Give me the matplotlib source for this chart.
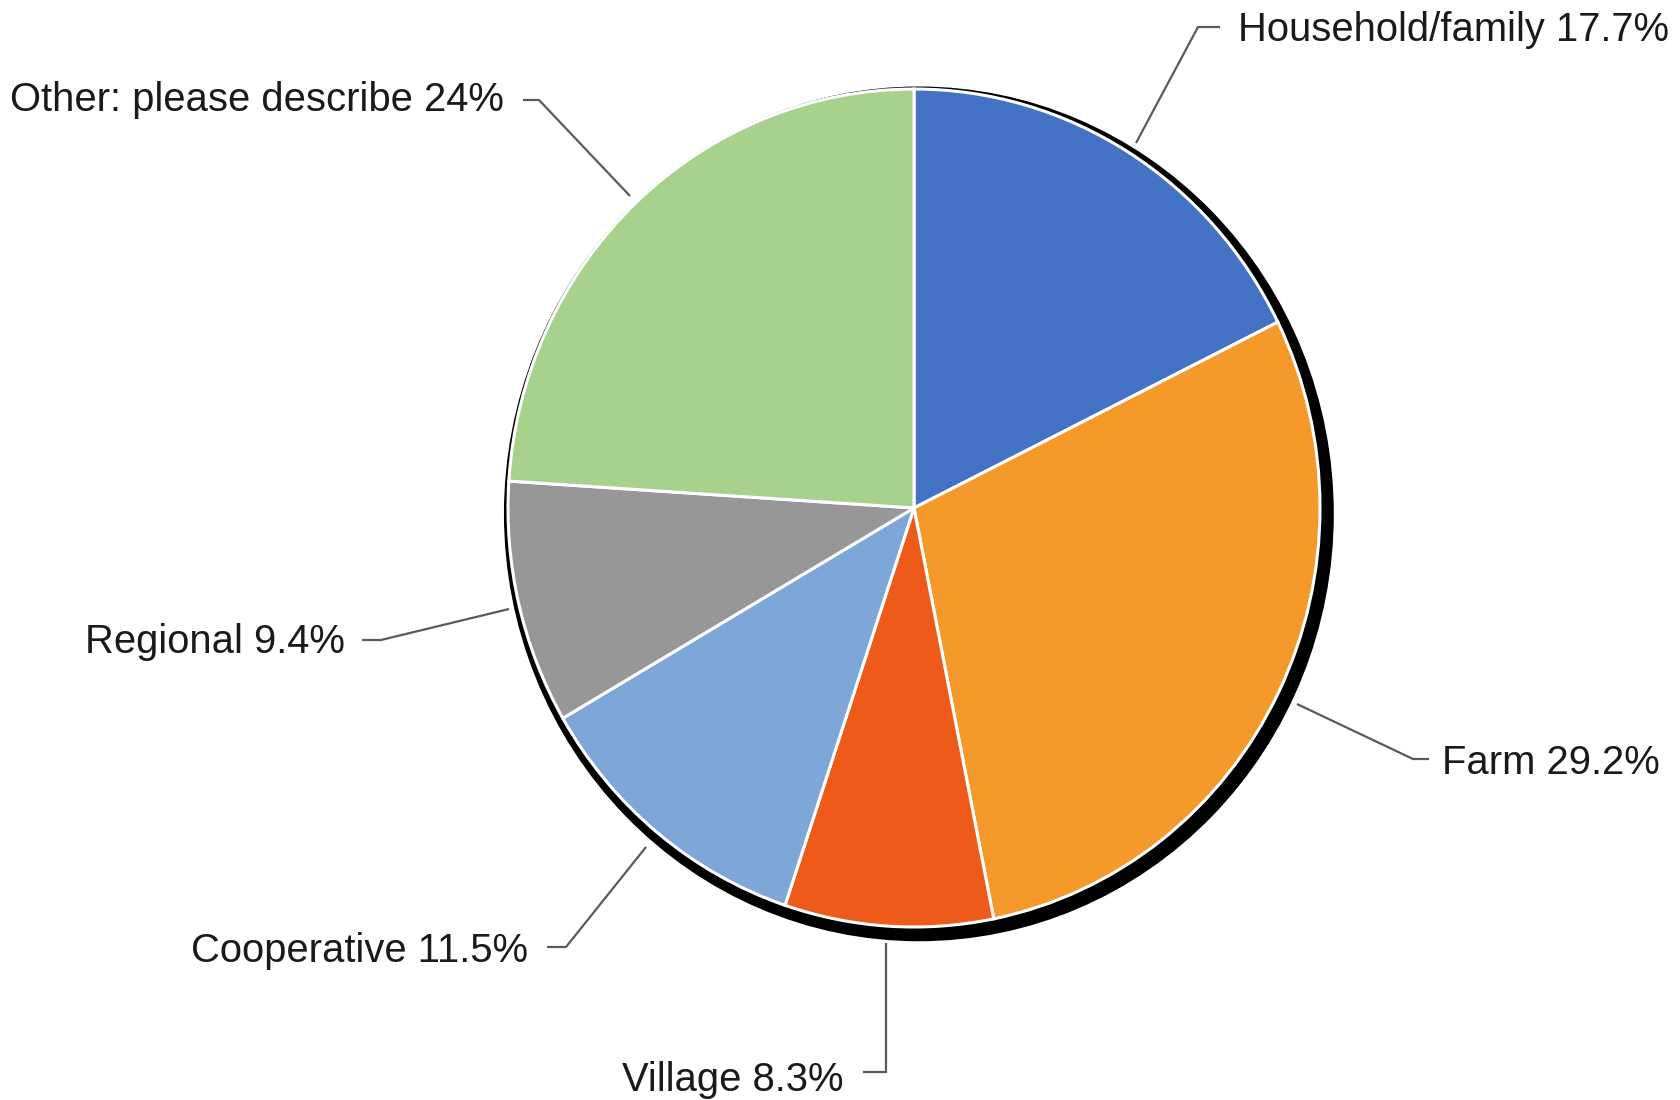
import matplotlib
matplotlib.use("Agg")
import matplotlib.pyplot as plt
from matplotlib.patches import Ellipse

categories = ["Household/family", "Farm", "Village", "Cooperative", "Regional", "Other: please describe"]
values = [17.7, 29.2, 8.3, 11.5, 9.4, 24]
colors = ["#4472C4", "#F5992A", "#EE5A1A", "#7EA6D8", "#97979A", "#A9D18E"]

W, H = 1681, 1100
fig = plt.figure(figsize=(W / 100, H / 100), dpi=100)
plt.rcParams['font.family'] = ['Liberation Sans', 'DejaVu Sans']

# pie geometry (pixels)
cx, cy, rx, ry = 914, 508, 406, 419
ax = fig.add_axes([(cx - rx) / W, (H - cy - ry) / H, 2 * rx / W, 2 * ry / H])
shadow = Ellipse((0.012, -0.014), 2.044, 2.04, facecolor="black", edgecolor="none", zorder=0)
shadow.set_clip_on(False)
ax.add_patch(shadow)
wedges, _ = ax.pie(values, colors=colors, startangle=90, counterclock=False,
                   wedgeprops=dict(edgecolor="white", linewidth=2.2))
for w in wedges:
    w.set_zorder(2)
    w.set_clip_on(False)
ax.set_aspect("auto")
ax.set_xlim(-1, 1)
ax.set_ylim(-1, 1)
ax.axis("off")

# overlay for leader lines and labels (pixel coordinates)
ov = fig.add_axes([0, 0, 1, 1])
ov.set_xlim(0, W)
ov.set_ylim(H, 0)
ov.axis("off")

leaders = [
    [(1136, 143), (1198, 27), (1220, 27)],
    [(1297, 704), (1413, 759), (1429, 759)],
    [(886, 943), (886, 1072), (863, 1072)],
    [(646, 847), (566, 947), (547, 947)],
    [(509, 609), (381, 640), (362, 640)],
    [(630, 196), (539, 100), (523, 100)],
]
text_pos = [(1238, 30, "left"), (1442, 763, "left"), (844, 1080, "right"),
            (528, 951, "right"), (345, 642, "right"), (504, 100, "right")]

for cat, v, pts, (tx, ty, ha) in zip(categories, values, leaders, text_pos):
    xs = [p[0] for p in pts]
    ys = [p[1] for p in pts]
    ov.plot(xs, ys, color="#5a5a5a", lw=1.6, solid_capstyle="butt")
    ov.text(tx, ty, f"{cat} {v:g}%", ha=ha, va="center", fontsize=28.8, color="#1a1a1a")

fig.savefig("out.png", dpi=100, facecolor="white")
